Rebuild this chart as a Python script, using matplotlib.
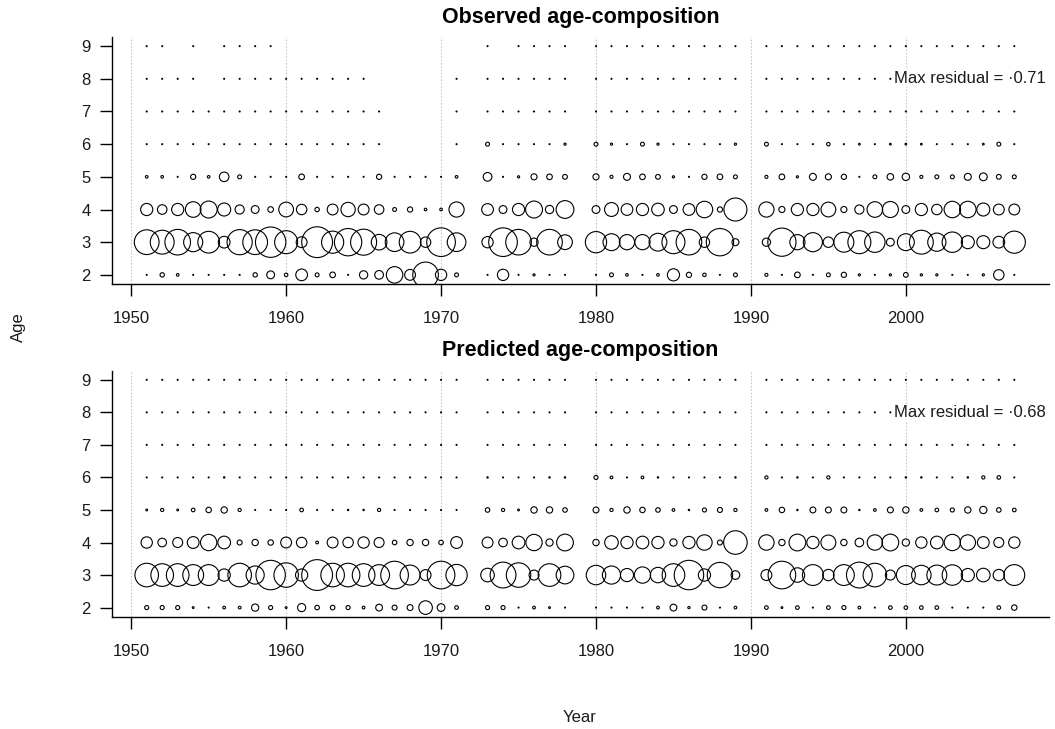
import numpy as np
import matplotlib
matplotlib.use("Agg")
import matplotlib.pyplot as plt

NA = np.nan

# sampled years (no samples in 1972, 1979 and 1990)
years = (list(range(1951, 1972)) + list(range(1973, 1979))
         + list(range(1980, 1990)) + list(range(1991, 2008)))
ages = [2, 3, 4, 5, 6, 7, 8, 9]
grid_years = [1950, 1960, 1970, 1980, 1990, 2000]

# observed proportions at age
obs_age2 = [0.01, 0.10, 0.06, 0.01, 0.01, 0.01, 0.01, 0.10, 0.18, 0.08, 0.27, 0.09, 0.13, 0.01, 0.19, 0.20, 0.38, 0.25, 0.59, 0.26, 0.09,
            0.01, 0.26, 0.01, 0.05, 0.01, 0.01,
            0.01, 0.09, 0.06, 0.01, 0.06, 0.28, 0.12, 0.08, 0.01, 0.09,
            0.07, 0.01, 0.13, 0.01, 0.09, 0.12, 0.05, 0.01, 0.05, 0.11, 0.05, 0.05, 0.01, 0.01, 0.05, 0.24, 0.01]
obs_age3 = [0.57, 0.55, 0.59, 0.44, 0.50, 0.27, 0.58, 0.57, 0.70, 0.53, 0.25, 0.71, 0.51, 0.63, 0.60, 0.36, 0.43, 0.50, 0.24, 0.66, 0.43,
            0.26, 0.66, 0.59, 0.19, 0.59, 0.34,
            0.49, 0.39, 0.35, 0.35, 0.41, 0.53, 0.59, 0.24, 0.63, 0.16,
            0.19, 0.65, 0.35, 0.44, 0.24, 0.46, 0.53, 0.47, 0.18, 0.39, 0.55, 0.42, 0.47, 0.30, 0.30, 0.27, 0.51]
obs_age4 = [0.28, 0.22, 0.28, 0.36, 0.39, 0.30, 0.21, 0.18, 0.13, 0.34, 0.24, 0.10, 0.25, 0.33, 0.25, 0.22, 0.09, 0.12, 0.06, 0.06, 0.35,
            0.27, 0.18, 0.28, 0.39, 0.19, 0.41,
            0.18, 0.32, 0.27, 0.28, 0.29, 0.18, 0.27, 0.38, 0.12, 0.53,
            0.35, 0.14, 0.28, 0.28, 0.34, 0.14, 0.21, 0.36, 0.37, 0.18, 0.28, 0.24, 0.38, 0.38, 0.30, 0.25, 0.25]
obs_age5 = [0.06, 0.06, 0.02, 0.12, 0.06, 0.22, 0.09, 0.01, 0.01, 0.01, 0.13, 0.01, 0.01, 0.01, 0.01, 0.12, 0.01, 0.01, 0.01, 0.01, 0.06,
            0.20, 0.01, 0.05, 0.14, 0.13, 0.11,
            0.14, 0.07, 0.16, 0.13, 0.11, 0.05, 0.01, 0.12, 0.13, 0.09,
            0.07, 0.13, 0.05, 0.16, 0.14, 0.12, 0.01, 0.09, 0.15, 0.17, 0.07, 0.09, 0.09, 0.16, 0.18, 0.11, 0.09]
obs_age6 = [0.01, 0.01, 0.01, 0.01, 0.01, 0.01, 0.01, 0.01, 0.01, 0.01, 0.01, 0.01, 0.01, 0.01, 0.01, 0.01, NA, NA, NA, NA, 0.01,
            0.09, 0.01, 0.01, 0.01, 0.01, 0.05,
            0.09, 0.05, 0.01, 0.09, 0.05, 0.01, 0.01, 0.01, 0.01, 0.05,
            0.09, 0.01, 0.01, 0.01, 0.08, 0.01, 0.04, 0.01, 0.04, 0.04, 0.04, 0.01, 0.01, 0.01, 0.04, 0.09, 0.01]
obs_age7 = [0.01, 0.01, 0.01, 0.01, 0.01, 0.01, 0.01, 0.01, 0.01, 0.01, 0.01, 0.01, 0.01, 0.01, 0.01, 0.01, NA, NA, NA, NA, 0.01,
            0.01, 0.01, 0.01, 0.01, 0.01, 0.01,
            0.01, 0.01, 0.01, 0.01, 0.01, 0.01, 0.01, 0.01, 0.01, 0.01,
            0.01, 0.01, 0.01, 0.01, 0.01, 0.01, 0.01, 0.01, 0.01, 0.01, 0.01, 0.01, 0.01, 0.01, 0.01, 0.01, 0.01]
obs_age8 = [0.01, 0.01, 0.01, 0.01, NA, 0.01, 0.01, 0.01, 0.01, 0.01, 0.01, 0.01, 0.01, 0.01, 0.01, NA, NA, NA, NA, NA, 0.01,
            0.01, 0.01, 0.01, 0.01, 0.01, 0.01,
            0.01, 0.01, 0.01, 0.01, 0.01, 0.01, 0.01, 0.01, 0.01, 0.01,
            0.01, 0.01, 0.01, 0.01, 0.01, 0.01, 0.01, 0.01, 0.01, 0.01, 0.01, 0.01, 0.01, 0.01, 0.01, 0.01, 0.01]
obs_age9 = [0.01, 0.01, NA, 0.01, NA, 0.01, 0.01, 0.01, 0.01, NA, NA, NA, NA, NA, NA, NA, NA, NA, NA, NA, NA,
            0.01, NA, 0.01, 0.01, 0.01, 0.01,
            0.01, 0.01, 0.01, 0.01, 0.01, 0.01, 0.01, 0.01, 0.01, 0.01,
            0.01, 0.01, 0.01, 0.01, 0.01, 0.01, 0.01, 0.01, 0.01, 0.01, 0.01, 0.01, 0.01, 0.01, 0.01, 0.01, 0.01]

# predicted proportions at age
pred_age2 = [0.09, 0.09, 0.09, 0.04, 0.02, 0.06, 0.06, 0.16, 0.09, 0.04, 0.18, 0.10, 0.10, 0.09, 0.06, 0.15, 0.11, 0.13, 0.30, 0.17, 0.08,
             0.09, 0.09, 0.02, 0.06, 0.04, 0.02,
             0.02, 0.02, 0.02, 0.02, 0.06, 0.15, 0.05, 0.11, 0.02, 0.06,
             0.08, 0.04, 0.08, 0.02, 0.08, 0.09, 0.06, 0.02, 0.08, 0.08, 0.08, 0.08, 0.02, 0.02, 0.02, 0.08, 0.12]
pred_age3 = [0.52, 0.50, 0.50, 0.46, 0.46, 0.27, 0.52, 0.40, 0.65, 0.54, 0.27, 0.68, 0.52, 0.52, 0.50, 0.46, 0.61, 0.44, 0.24, 0.61, 0.47,
             0.30, 0.57, 0.54, 0.22, 0.50, 0.39,
             0.43, 0.40, 0.29, 0.36, 0.34, 0.50, 0.65, 0.27, 0.56, 0.19,
             0.24, 0.61, 0.32, 0.46, 0.25, 0.46, 0.57, 0.52, 0.22, 0.42, 0.43, 0.44, 0.45, 0.29, 0.30, 0.25, 0.46]
pred_age4 = [0.25, 0.19, 0.22, 0.26, 0.36, 0.28, 0.11, 0.14, 0.12, 0.24, 0.23, 0.06, 0.24, 0.23, 0.25, 0.22, 0.10, 0.14, 0.14, 0.10, 0.26,
             0.24, 0.19, 0.28, 0.36, 0.16, 0.37,
             0.14, 0.30, 0.27, 0.28, 0.27, 0.16, 0.27, 0.34, 0.11, 0.52,
             0.34, 0.14, 0.37, 0.27, 0.33, 0.14, 0.19, 0.34, 0.37, 0.16, 0.25, 0.28, 0.36, 0.34, 0.26, 0.22, 0.25]
pred_age5 = [0.04, 0.07, 0.04, 0.08, 0.12, 0.14, 0.07, 0.02, 0.02, 0.02, 0.08, 0.02, 0.02, 0.03, 0.03, 0.07, 0.02, 0.02, 0.02, 0.02, 0.02,
             0.10, 0.07, 0.04, 0.14, 0.14, 0.10,
             0.13, 0.07, 0.14, 0.12, 0.10, 0.06, 0.03, 0.09, 0.11, 0.07,
             0.06, 0.12, 0.03, 0.13, 0.13, 0.13, 0.03, 0.06, 0.13, 0.14, 0.06, 0.08, 0.09, 0.14, 0.16, 0.10, 0.08]
pred_age6 = [0.01, 0.01, 0.01, 0.01, 0.01, 0.03, 0.01, 0.01, 0.01, 0.01, 0.01, 0.01, 0.01, 0.01, 0.01, 0.01, 0.01, 0.01, 0.01, 0.01, 0.01,
             0.03, 0.01, 0.01, 0.01, 0.03, 0.03,
             0.09, 0.06, 0.01, 0.06, 0.03, 0.01, 0.01, 0.01, 0.01, 0.03,
             0.07, 0.01, 0.03, 0.01, 0.07, 0.01, 0.01, 0.01, 0.01, 0.03, 0.03, 0.01, 0.01, 0.03, 0.07, 0.08, 0.01]
pred_age7 = [0.01, 0.01, 0.01, 0.01, 0.01, 0.01, 0.01, 0.01, 0.01, 0.01, 0.01, 0.01, 0.01, 0.01, 0.01, 0.01, 0.01, 0.01, 0.01, 0.01, 0.01,
             0.01, 0.01, 0.01, 0.01, 0.01, 0.01,
             0.01, 0.01, 0.01, 0.01, 0.01, 0.01, 0.01, 0.01, 0.01, 0.01,
             0.01, 0.01, 0.01, 0.01, 0.01, 0.01, 0.01, 0.01, 0.01, 0.01, 0.01, 0.01, 0.01, 0.01, 0.01, 0.01, 0.01]
pred_age8 = [0.01, 0.01, 0.01, 0.01, 0.01, 0.01, 0.01, 0.01, 0.01, 0.01, 0.01, 0.01, 0.01, 0.01, 0.01, 0.01, 0.01, 0.01, 0.01, 0.01, 0.01,
             0.01, 0.01, 0.01, 0.01, 0.01, 0.01,
             0.01, 0.01, 0.01, 0.01, 0.01, 0.01, 0.01, 0.01, 0.01, 0.01,
             0.01, 0.01, 0.01, 0.01, 0.01, 0.01, 0.01, 0.01, 0.01, 0.01, 0.01, 0.01, 0.01, 0.01, 0.01, 0.01, 0.01]
pred_age9 = [0.01, 0.01, 0.01, 0.01, 0.01, 0.01, 0.01, 0.01, 0.01, 0.01, 0.01, 0.01, 0.01, 0.01, 0.01, 0.01, 0.01, 0.01, 0.01, 0.01, 0.01,
             0.01, 0.01, 0.01, 0.01, 0.01, 0.01,
             0.01, 0.01, 0.01, 0.01, 0.01, 0.01, 0.01, 0.01, 0.01, 0.01,
             0.01, 0.01, 0.01, 0.01, 0.01, 0.01, 0.01, 0.01, 0.01, 0.01, 0.01, 0.01, 0.01, 0.01, 0.01, 0.01, 0.01]

observed = np.array([obs_age2, obs_age3, obs_age4, obs_age5, obs_age6, obs_age7, obs_age8, obs_age9])
predicted = np.array([pred_age2, pred_age3, pred_age4, pred_age5, pred_age6, pred_age7, pred_age8, pred_age9])

DPI = 100
W, H = 1055, 729
MAX_R = 15.4  # radius in pixels of the largest bubble in a panel
MIN_R = 0.5   # keep the tiny proportions visible as dots

plt.rcParams["font.family"] = ["Liberation Sans", "DejaVu Sans"]

fig = plt.figure(figsize=(W / DPI, H / DPI), dpi=DPI)
fig.patch.set_facecolor("white")

left, right = 112, 1049


def bubble_panel(top_px, bottom_px, props, title):
    ax = fig.add_axes([left / W, 1 - bottom_px / H, (right - left) / W, (bottom_px - top_px) / H])
    ax.set_xlim(1948.76, 2009.24)
    ax.set_ylim(1.72, 9.28)

    for gy in grid_years:
        ax.axvline(gy, color="#c8c8c8", lw=0.8, ls=(0, (1.5, 1.5)), zorder=1)

    vmax = np.nanmax(props)
    X, Y = np.meshgrid(years, ages)
    ok = ~np.isnan(props)
    r_px = np.maximum(MAX_R * props[ok] / vmax, MIN_R)
    sizes = (2 * r_px * 72 / DPI) ** 2
    ax.scatter(X[ok], Y[ok], s=sizes, facecolors="none", edgecolors="black",
               linewidths=0.8, zorder=3)

    ax.text(2009.0, 8, "Max residual = \u00b7%.2f" % vmax, ha="right", va="center",
            fontsize=12, color="#1a1a1a", zorder=4,
            bbox=dict(facecolor="white", edgecolor="none", pad=0.6))

    for side in ("top", "right"):
        ax.spines[side].set_visible(False)
    for side in ("left", "bottom"):
        ax.spines[side].set_linewidth(1.0)
    ax.set_xticks(grid_years)
    ax.set_yticks(ages)
    ax.tick_params(axis="both", length=8.5, width=1.0, labelsize=12, labelcolor="#1a1a1a")
    ax.tick_params(axis="x", pad=11)
    ax.tick_params(axis="y", pad=7)

    fig.text((left + right) / 2 / W, 1 - (top_px - 20) / H, title, ha="center", va="center",
             fontsize=15.5, fontweight="bold")
    return ax


bubble_panel(37, 284, observed, "Observed age-composition")
bubble_panel(370.7, 616.7, predicted, "Predicted age-composition")

fig.text(18 / W, 1 - 327 / H, "Age", rotation=90, ha="center", va="center", fontsize=12, color="#1a1a1a")
fig.text(580 / W, 1 - 717 / H, "Year", ha="center", va="center", fontsize=12, color="#1a1a1a")

fig.savefig("out.png", dpi=DPI)
